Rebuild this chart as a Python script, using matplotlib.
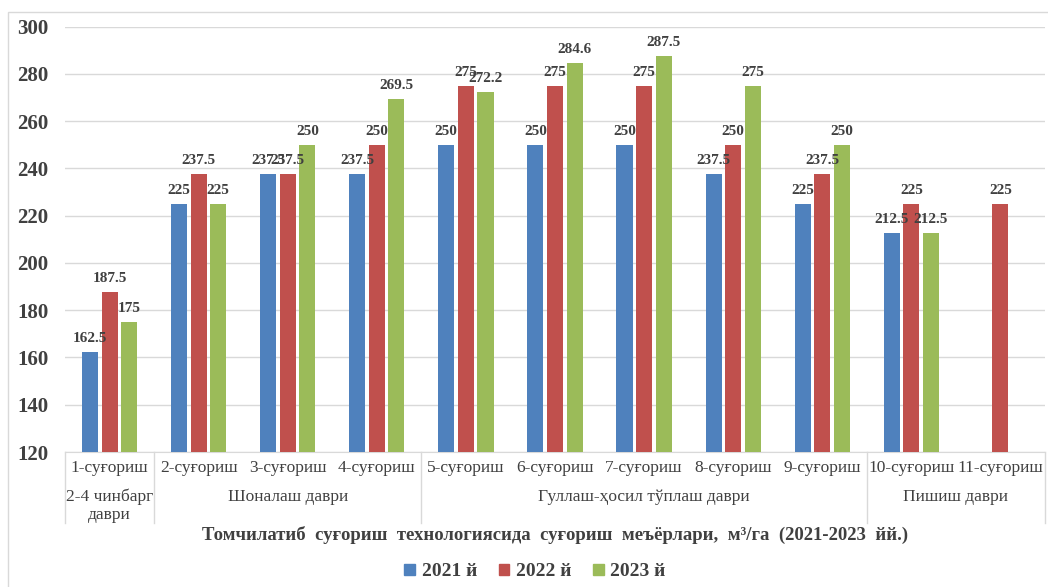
import matplotlib
matplotlib.use("Agg")
import matplotlib.pyplot as plt
from matplotlib.patches import Rectangle
from matplotlib.lines import Line2D
import numpy as np

categories = ["1-суғориш", "2-суғориш", "3-суғориш", "4-суғориш", "5-суғориш",
              "6-суғориш", "7-суғориш", "8-суғориш", "9-суғориш", "10-суғориш",
              "11-суғориш"]
periods = ["2-4 чинбарг\nдаври", "Шоналаш даври", "Гуллаш-ҳосил тўплаш даври", "Пишиш даври"]
period_spans = [(0, 1), (1, 4), (4, 9), (9, 11)]

series_names = ["2021 й", "2022 й", "2023 й"]
v2021 = [162.5, 225, 237.5, 237.5, 250, 250, 250, 237.5, 225, 212.5, None]
v2022 = [187.5, 237.5, 237.5, 250, 275, 275, 275, 250, 237.5, 225, 225]
v2023 = [175, 225, 250, 269.5, 272.2, 284.6, 287.5, 275, 250, 212.5, None]
colors = ["#4F81BD", "#C0504D", "#9BBB59"]

title = "Томчилатиб  суғориш  технологиясида  суғориш  меъёрлари,  м³/га  (2021-2023  йй.)"

plt.rcParams["font.family"] = ["Liberation Serif", "DejaVu Serif"]

W, H = 1048, 587
fig = plt.figure(figsize=(W / 100, H / 100), dpi=100)
ax = fig.add_axes([65 / W, 1 - 452 / H, (1045 - 65) / W, (452 - 26.5) / H])

x = np.arange(len(categories))
width = 0.18
offsets = [-0.22, 0.0, 0.22]
for vals, col, off, name in zip([v2021, v2022, v2023], colors, offsets, series_names):
    xs = [xi + off for xi, v in zip(x, vals) if v is not None]
    ys = [v for v in vals if v is not None]
    ax.bar(xs, [y - 120 for y in ys], width, bottom=120, color=col, label=name, zorder=3)
    for xi, yi in zip(xs, ys):
        ax.annotate(f"{yi:g}", (xi, yi), xytext=(0, 5), textcoords="offset points",
                    ha="center", va="bottom", fontsize=11, fontweight="bold",
                    color="#404040", zorder=4)

ax.set_xlim(-0.5, len(categories) - 0.5)
ax.set_ylim(120, 300)
ax.set_yticks(np.arange(120, 301, 20))
ax.tick_params(axis="y", length=0, pad=12, labelsize=15, labelcolor="#404040")
for lbl in ax.get_yticklabels():
    lbl.set_fontweight("bold")
ax.set_xticks([])
ax.grid(axis="y", color="#D9D9D9", linewidth=1, zorder=0)
for side in ["top", "right", "left"]:
    ax.spines[side].set_visible(False)
ax.spines["bottom"].set_color("#D9D9D9")

# category and period labels under the axis
trans = ax.get_xaxis_transform()
px = 1 / (452 - 26.5)
for xi, c in zip(x, categories):
    ax.text(xi, -16 * px, c, transform=trans, ha="center", va="center",
            fontsize=12.5, color="#404040")
for (a, b), p in zip(period_spans, periods):
    yy = -54 * px if "\n" in p else -45 * px
    ax.text((a + b - 1) / 2, yy, p, transform=trans, ha="center", va="center",
            fontsize=12.5, color="#404040", linespacing=1.15)
bounds = sorted(set([s for s, _ in period_spans] + [e for _, e in period_spans]))
for bnd in bounds:
    ax.add_line(Line2D([bnd - 0.5, bnd - 0.5], [0, -71 * px], transform=trans,
                       color="#D9D9D9", linewidth=1, clip_on=False))

fig.text(555 / W, 1 - 535 / H, title, ha="center", va="center", fontsize=13.5,
         fontweight="bold", color="#404040")

handles = [Rectangle((0, 0), 1, 1, color=c) for c in colors]
fig.legend(handles, series_names, loc="center", bbox_to_anchor=(535 / W, 1 - 572 / H),
           ncol=3, frameon=False, prop={"weight": "bold", "size": 14},
           handlelength=0.55, handleheight=0.55, handletextpad=0.35, columnspacing=1.1,
           labelcolor="#404040")

fig.patches.append(Rectangle((8 / W, -0.05), (1050 - 8) / W, (1 - 12 / H) + 0.05,
                             transform=fig.transFigure, fill=False,
                             edgecolor="#D9D9D9", linewidth=1))

fig.savefig("out.png", dpi=100, facecolor="white")
